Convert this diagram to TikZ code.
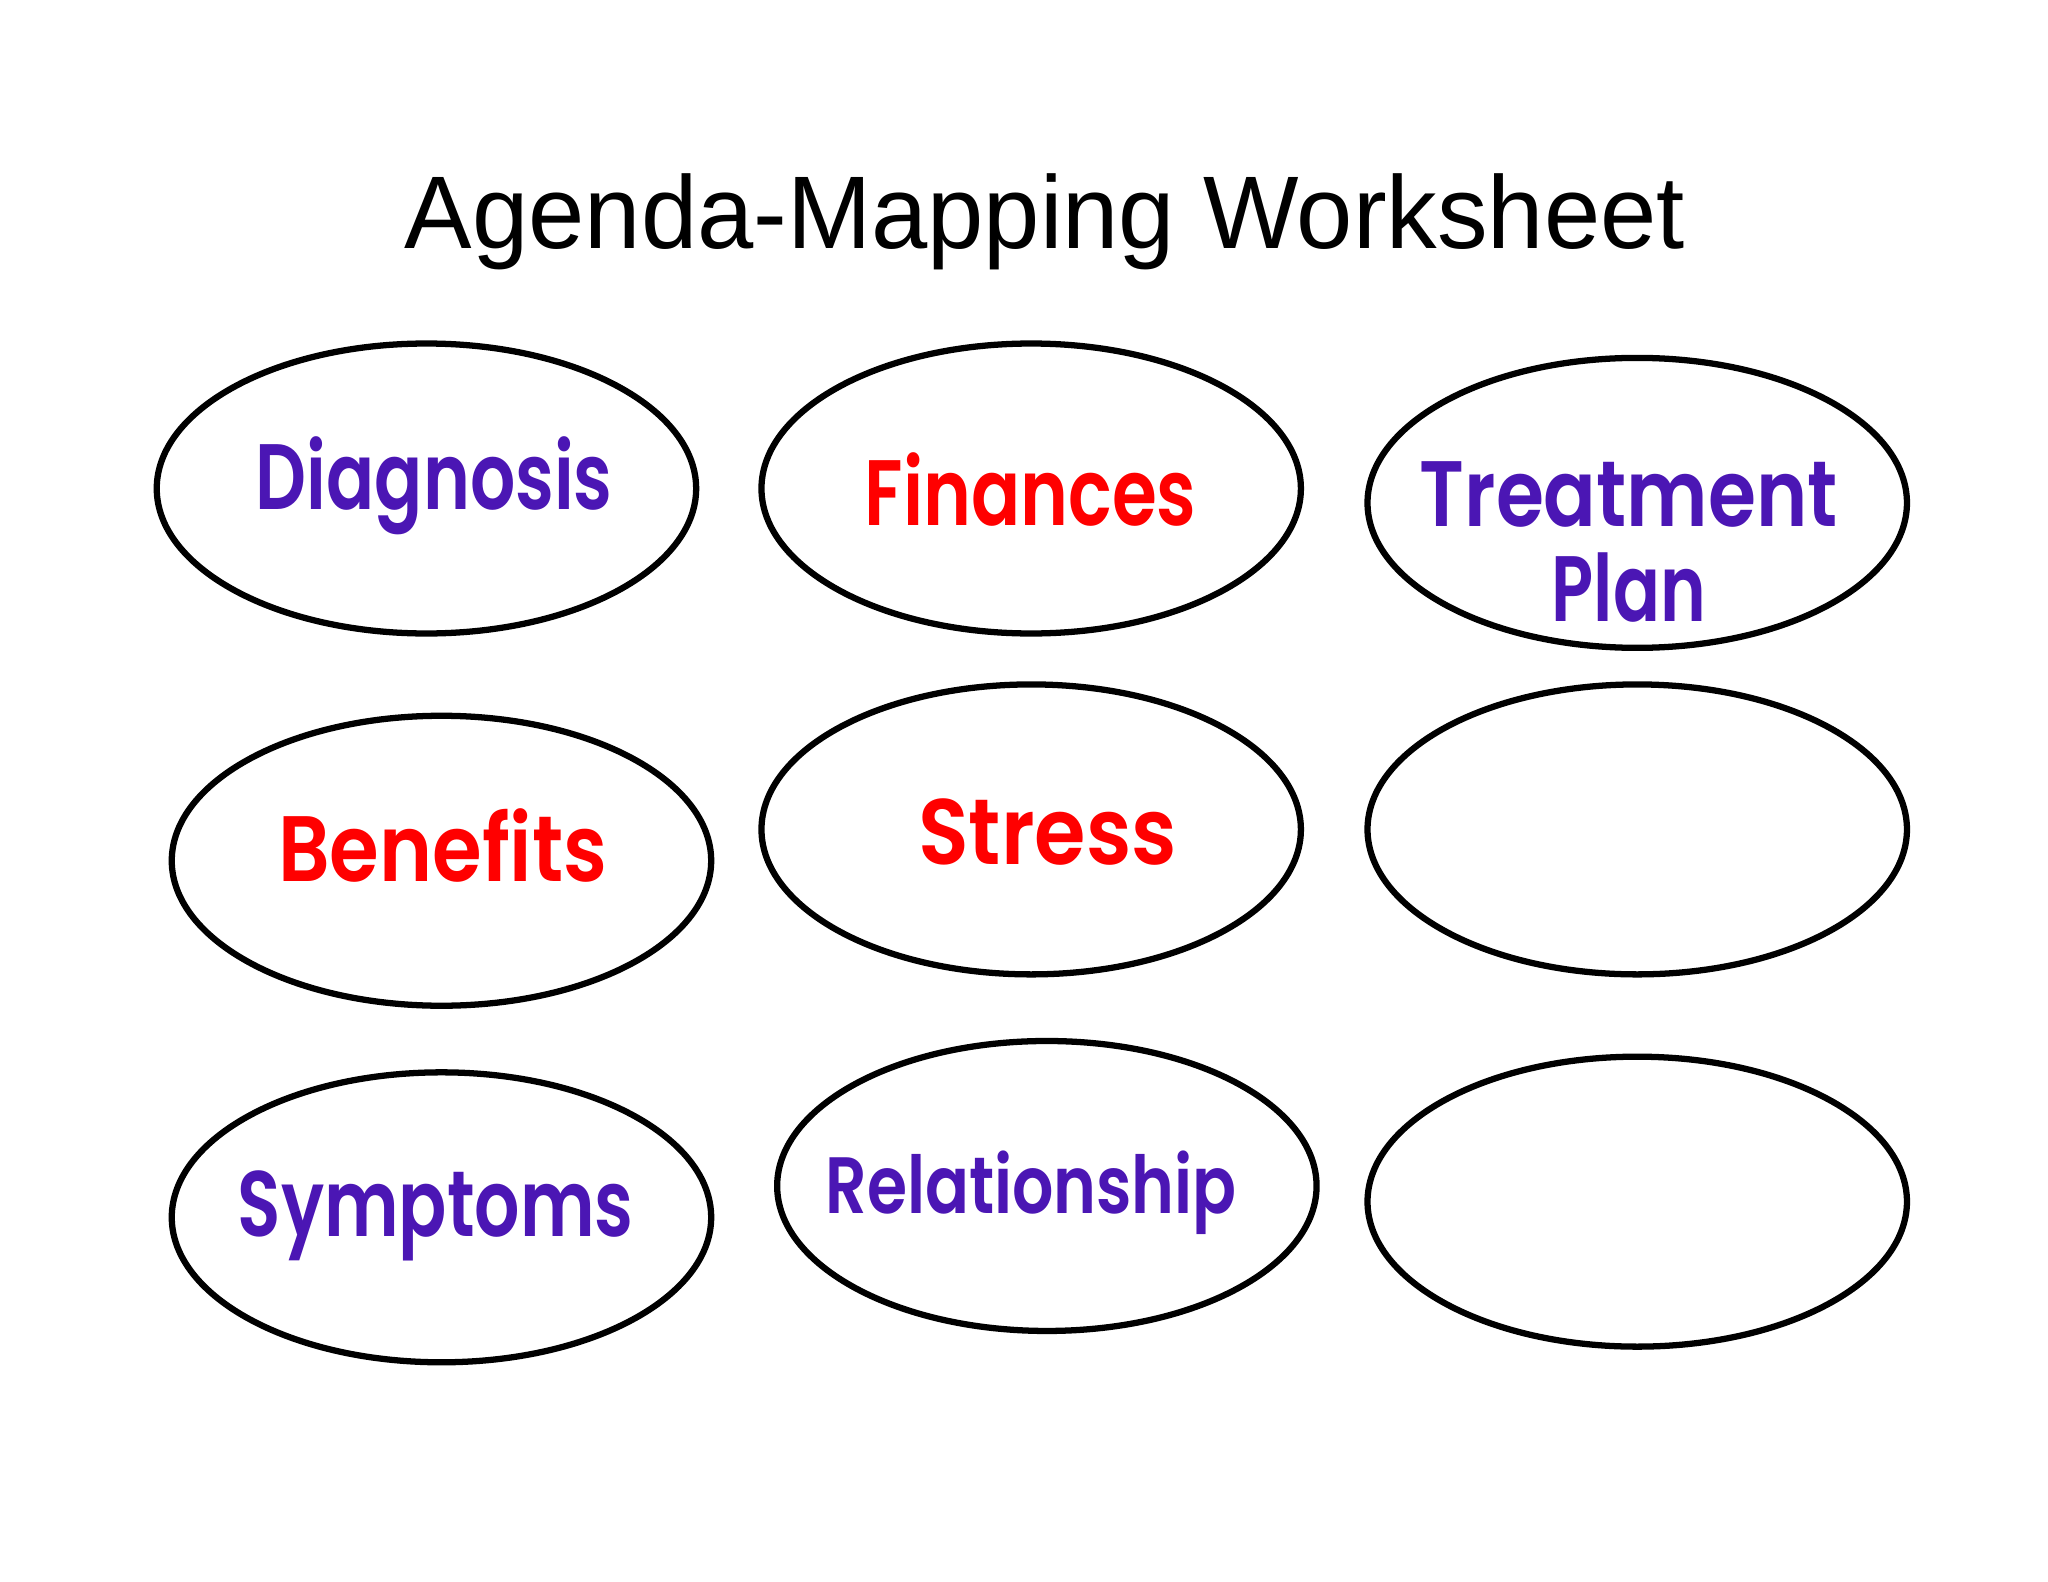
\documentclass[tikz,border=0pt]{standalone}
\usepackage{fontspec}
\usepackage{graphicx}
\usetikzlibrary{shapes.geometric}
\setmainfont{Liberation Sans}
\newfontfamily\labfont{Poppins SemiBold}
\newlength\px
\setlength\px{0.02cm}
\definecolor{labpurple}{RGB}{75,22,180}
\definecolor{labred}{RGB}{255,0,0}
\newcommand\fitw[2]{\resizebox{#1\px}{\height}{#2}}
\tikzset{
  oval/.style={ellipse, draw=black, line width=4.8\px, fill=white,
    minimum width=413\px, minimum height=222\px, inner sep=0pt},
  lab/.style={anchor=base, inner sep=0pt, font=\labfont\fontsize{40.5}{48}\selectfont},
  labsmall/.style={anchor=base, inner sep=0pt, font=\labfont\fontsize{34.8}{42}\selectfont},
  ttl/.style={anchor=base, inner sep=0pt, font=\fontsize{45}{54}\selectfont}
}
\begin{document}
\begin{tikzpicture}[x=0.02cm, y=-0.02cm]
\fill[white] (0,0) rectangle (1568,1211);
\useasboundingbox (0,0) rectangle (1568,1211);
\node[ttl] (title) at (800,190) {\fitw{980}{Agenda-Mapping Worksheet}};
% ellipses
\node[oval] (e1) at (326.5,374) {};
\node[oval] (e2) at (789.5,374) {};
\node[oval] (e3) at (1253.5,385) {};
\node[oval] (e4) at (338,659) {};
\node[oval] (e5) at (789.5,635) {};
\node[oval] (e6) at (1253.5,635) {};
\node[oval] (e7) at (338,932) {};
\node[oval] (e8) at (801.5,908) {};
\node[oval] (e9) at (1253.5,920) {};
% labels
\node[lab, text=labpurple] (t1) at (332.5,390) {\fitw{273}{Diagnosis}};
\node[lab, text=labred] (t2) at (789,402) {\fitw{254}{Finances}};
\node[lab, text=labpurple] (t3) at (1247,403) {\fitw{320}{Treatment}};
\node[lab, text=labpurple] (t3b) at (1247,476) {\fitw{118}{Plan}};
\node[lab, text=labred] (t4) at (339,675) {\fitw{252}{Benefits}};
\node[lab, text=labred] (t5) at (802,662) {\fitw{198}{Stress}};
\node[lab, text=labpurple] (t7) at (333.5,947) {\fitw{303}{Symptoms}};
\node[labsmall, text=labpurple] (t8) at (789.5,929) {\fitw{315}{Relationship}};
\end{tikzpicture}
\end{document}
